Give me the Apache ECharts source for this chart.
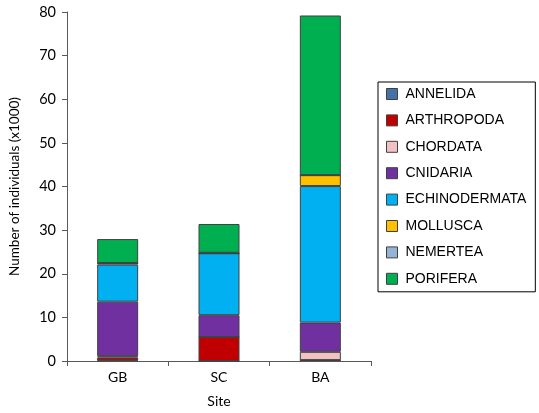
<!DOCTYPE html>
<html>
<head>
<meta charset="utf-8">
<script src="https://cdn.jsdelivr.net/npm/echarts@6/dist/echarts.min.js"></script>
<style>
  html, body { margin: 0; padding: 0; background: #fff; }
  #chart { width: 539px; height: 413px; }
</style>
</head>
<body>
<div id="chart"></div>
<script>
// Sites along the x axis
const sites = ['GB', 'SC', 'BA'];

// Individuals per phylum at each site (x1000), stacked bottom to top
const annelida      = [0.1, 0.0, 0.2];
const arthropoda    = [0.7, 5.5, 0.0];
const chordata      = [0.3, 0.0, 1.9];
const cnidaria      = [12.5, 5.0, 6.7];
const echinodermata = [8.5, 14.2, 31.3];
const mollusca      = [0.35, 0.0, 2.5];
const nemertea      = [0.0, 0.1, 0.0];
const porifera      = [5.5, 6.6, 36.6];

const yTicks = { min: 0, max: 80, step: 10 };

const phyla = [
  { name: 'ANNELIDA',      data: annelida,      color: '#4472A8' },
  { name: 'ARTHROPODA',    data: arthropoda,    color: '#C00000' },
  { name: 'CHORDATA',      data: chordata,      color: '#F2C2C2' },
  { name: 'CNIDARIA',      data: cnidaria,      color: '#7030A0' },
  { name: 'ECHINODERMATA', data: echinodermata, color: '#00B0F0' },
  { name: 'MOLLUSCA',      data: mollusca,      color: '#FFC000' },
  { name: 'NEMERTEA',      data: nemertea,      color: '#95B3D7' },
  { name: 'PORIFERA',      data: porifera,      color: '#00B050' }
];

const axisFont = 'Lato';
const legendFont = 'Liberation Sans';
const axisGray = '#595959';

const chart = echarts.init(document.getElementById('chart'), null, { renderer: 'canvas' });

chart.setOption({
  animation: false,
  grid: { left: 67, right: 168, top: 12, bottom: 44, containLabel: false },
  legend: {
    orient: 'vertical',
    left: 378,
    top: 82,
    padding: [5, 9, 6, 8],
    icon: 'rect',
    itemWidth: 11,
    itemHeight: 11,
    itemGap: 12.4,
    itemStyle: { borderColor: '#404040', borderWidth: 1 },
    borderColor: '#000',
    borderWidth: 1,
    textStyle: { fontFamily: legendFont, fontSize: 14, color: '#000', padding: [0, 0, 0, 3] },
    data: phyla.map(p => p.name)
  },
  xAxis: {
    type: 'category',
    data: sites,
    name: 'Site',
    nameLocation: 'middle',
    nameGap: 33,
    nameTextStyle: { fontFamily: axisFont, fontSize: 14, color: '#000' },
    axisLine: { lineStyle: { color: axisGray, width: 1 } },
    axisTick: { show: true, length: 5, inside: false, lineStyle: { color: axisGray } },
    axisLabel: { fontFamily: axisFont, fontSize: 14, color: '#000', margin: 9 }
  },
  yAxis: {
    type: 'value',
    min: yTicks.min,
    max: yTicks.max,
    interval: yTicks.step,
    name: 'Number of individuals (x1000)',
    nameLocation: 'middle',
    nameRotate: 90,
    nameGap: 45,
    nameTextStyle: { fontFamily: axisFont, fontSize: 13.5, color: '#000' },
    splitLine: { show: false },
    axisLine: { show: true, lineStyle: { color: axisGray, width: 1 } },
    axisTick: { show: true, length: 5, inside: false, lineStyle: { color: axisGray } },
    axisLabel: { fontFamily: axisFont, fontSize: 14.5, color: '#000', margin: 11 }
  },
  series: phyla.map(p => ({
    name: p.name,
    type: 'bar',
    stack: 'total',
    barWidth: 41,
    data: p.data,
    itemStyle: { color: p.color, borderColor: '#404040', borderWidth: 1 }
  }))
});
</script>
</body>
</html>
